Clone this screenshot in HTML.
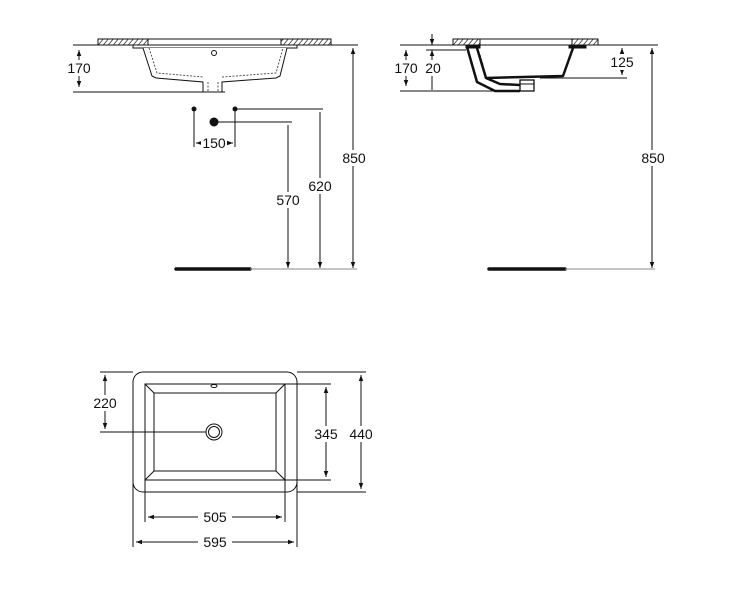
<!DOCTYPE html>
<html><head><meta charset="utf-8"><style>
html,body{margin:0;padding:0;background:#fff;}
svg{display:block;}
text{font-family:"Liberation Sans",Arial,sans-serif;font-size:14px;fill:#111;}
</style></head><body>
<svg width="753" height="600" viewBox="0 0 753 600" xmlns="http://www.w3.org/2000/svg">
<defs>
<pattern id="h" width="5" height="6" patternUnits="userSpaceOnUse" patternTransform="skewX(-40)">
<rect width="5" height="6" fill="#fff"/><line x1="1" y1="0" x2="1" y2="6" stroke="#333" stroke-width="1"/></pattern>
<marker id="a" viewBox="0 0 8 8" refX="8" refY="4" markerWidth="6" markerHeight="6" orient="auto-start-reverse"><path d="M0,1 L8,4 L0,7z" fill="#111"/></marker>
</defs>
<g stroke="#111" stroke-width="1" fill="none">
<rect x="98" y="39" width="233" height="6" fill="#fff"/>
<rect x="98" y="39" width="50" height="6" fill="url(#h)"/>
<rect x="281" y="39" width="50" height="6" fill="url(#h)"/>
<rect x="133" y="45" width="164" height="3" fill="#fff"/>
<path d="M143,48 L152,76 L156,78 L203,82 L203,92 L222,92 L222,82 L276,78 L280,76 L287,48" fill="#fff"/>
<path d="M149,48 L157,73 L203,77 M222,77 L276,73 L283,48 M208,82 L208,92 M218,82 L218,92" stroke-dasharray="2,1.5" stroke="#555"/>
<circle cx="214" cy="53" r="2.5"/>
<line x1="73" y1="45" x2="98" y2="45"/><line x1="73" y1="92" x2="225" y2="92"/>
<line x1="79" y1="50" x2="79" y2="87" marker-start="url(#a)" marker-end="url(#a)"/>
<line x1="331" y1="45" x2="358" y2="45"/>
<line x1="353" y1="48" x2="353" y2="268" marker-start="url(#a)" marker-end="url(#a)"/>
<circle cx="194" cy="109" r="2" fill="#111"/><circle cx="235" cy="109" r="2" fill="#111"/>
<circle cx="214" cy="122" r="4" fill="#111"/>
<line x1="194" y1="109" x2="194" y2="147"/><line x1="235" y1="109" x2="235" y2="147"/>
<line x1="235" y1="109" x2="323" y2="109"/><line x1="214" y1="122" x2="292" y2="122"/>
<line x1="320" y1="112" x2="320" y2="268" marker-end="url(#a)"/>
<line x1="288" y1="125" x2="288" y2="268" marker-end="url(#a)"/>
<line x1="196" y1="143" x2="200" y2="143" marker-start="url(#a)"/>
<line x1="229" y1="143" x2="233" y2="143" marker-end="url(#a)"/>
<line x1="176" y1="269" x2="250" y2="269" stroke-width="3.5" stroke-linecap="round"/>
<line x1="250" y1="269" x2="357" y2="269" stroke="#888"/>
<!-- SIDE VIEW -->
<rect x="453" y="39" width="145" height="6" fill="#fff"/>
<rect x="453" y="39" width="27" height="6" fill="url(#h)"/>
<rect x="572" y="39" width="26" height="6" fill="url(#h)"/>
<path d="M467,47 L477,82 L495,91 L520,91" stroke-width="2.5" stroke-linejoin="round"/>
<path d="M477,48 L486,78 L500,84 L520,85" stroke-width="2.5" stroke-linejoin="round"/>
<path d="M486,78 L563,76 L573,48" stroke-width="2.5" stroke-linejoin="round"/>
<rect x="466" y="45" width="14" height="3" fill="#111"/>
<rect x="569" y="45" width="17" height="3" fill="#111"/>
<line x1="480" y1="55" x2="483" y2="65" stroke-dasharray="2,2"/>
<rect x="520" y="80" width="14" height="11" fill="#fff" stroke-width="1.3"/>
<line x1="520" y1="84" x2="534" y2="84"/>
<line x1="400" y1="45" x2="453" y2="45"/><line x1="400" y1="91" x2="525" y2="91"/>
<line x1="406" y1="50" x2="406" y2="86" marker-start="url(#a)" marker-end="url(#a)"/>
<line x1="426" y1="50" x2="466" y2="50"/>
<line x1="432" y1="34" x2="432" y2="45" marker-end="url(#a)"/>
<line x1="432" y1="62" x2="432" y2="50" marker-end="url(#a)"/>
<line x1="432" y1="74" x2="432" y2="90"/>
<line x1="598" y1="45" x2="658" y2="45"/><line x1="540" y1="78" x2="627" y2="78"/>
<line x1="622" y1="48" x2="622" y2="75" marker-start="url(#a)" marker-end="url(#a)"/>
<line x1="652" y1="48" x2="652" y2="268" marker-start="url(#a)" marker-end="url(#a)"/>
<line x1="489" y1="269" x2="565" y2="269" stroke-width="3.5" stroke-linecap="round"/>
<line x1="565" y1="269" x2="655" y2="269" stroke="#888"/>
<!-- PLAN VIEW -->
<rect x="133" y="372" width="164" height="120" rx="10" fill="#fff"/>
<rect x="145" y="384" width="140" height="96"/>
<rect x="154" y="393" width="122" height="78"/>
<path d="M145,384 L154,393 M285,384 L276,393 M145,480 L154,471 M285,480 L276,471"/>
<circle cx="214" cy="432" r="8"/><circle cx="214" cy="432" r="5.5"/>
<ellipse cx="214" cy="386" rx="3" ry="1.5"/>
<line x1="100" y1="372" x2="133" y2="372"/><line x1="100" y1="432" x2="206" y2="432"/>
<line x1="105" y1="375" x2="105" y2="429" marker-start="url(#a)" marker-end="url(#a)"/>
<line x1="285" y1="384" x2="331" y2="384"/><line x1="285" y1="480" x2="331" y2="480"/>
<line x1="326" y1="387" x2="326" y2="477" marker-start="url(#a)" marker-end="url(#a)"/>
<line x1="297" y1="372" x2="366" y2="372"/><line x1="297" y1="492" x2="366" y2="492"/>
<line x1="361" y1="375" x2="361" y2="489" marker-start="url(#a)" marker-end="url(#a)"/>
<line x1="145" y1="480" x2="145" y2="522"/><line x1="285" y1="480" x2="285" y2="522"/>
<line x1="148" y1="517" x2="282" y2="517" marker-start="url(#a)" marker-end="url(#a)"/>
<line x1="133" y1="482" x2="133" y2="547"/><line x1="297" y1="482" x2="297" y2="547"/>
<line x1="136" y1="542" x2="294" y2="542" marker-start="url(#a)" marker-end="url(#a)"/>
</g>
<g fill="#fff">
<rect x="64" y="60" width="30" height="16"/><rect x="339" y="150" width="30" height="16"/>
<rect x="201" y="136" width="26" height="15"/><rect x="306" y="178" width="29" height="16"/>
<rect x="274" y="192" width="29" height="16"/>
<rect x="394" y="60" width="25" height="16"/><rect x="423" y="60" width="20" height="16"/>
<rect x="608" y="54" width="29" height="16"/><rect x="638" y="150" width="30" height="16"/>
<rect x="92" y="395" width="26" height="16"/><rect x="312" y="426" width="28" height="16"/>
<rect x="347" y="426" width="28" height="16"/>
<rect x="198" y="509" width="34" height="16"/><rect x="198" y="534" width="34" height="16"/>
</g>
<g text-anchor="middle">
<text x="79" y="73">170</text><text x="354" y="163">850</text>
<text x="214" y="148">150</text><text x="320" y="191">620</text><text x="288" y="205">570</text>
<text x="406" y="73">170</text><text x="433" y="73">20</text>
<text x="622" y="67">125</text><text x="653" y="163">850</text>
<text x="105" y="408">220</text><text x="326" y="439">345</text><text x="361" y="439">440</text>
<text x="215" y="522">505</text><text x="215" y="547">595</text>
</g>
</svg>
</body></html>
